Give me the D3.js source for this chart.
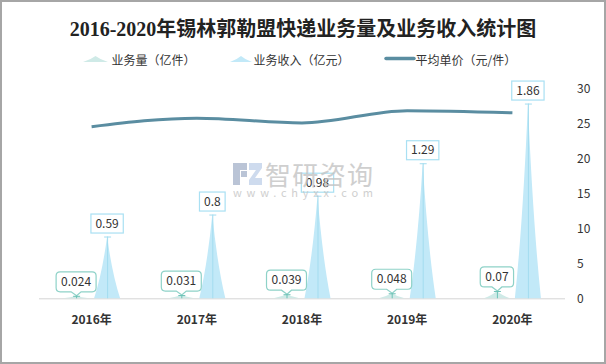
<!DOCTYPE html>
<html><head><meta charset="utf-8">
<script src="https://cdn.jsdelivr.net/npm/d3@7"></script>
<style>body{margin:0;background:#fff}svg{display:block}</style>
</head><body><svg id="c" width="606" height="364"></svg>
<script>
const title = "2016-2020年锡林郭勒盟快递业务量及业务收入统计图";
const years = ["2016年","2017年","2018年","2019年","2020年"];
const volume = [0.024,0.031,0.039,0.048,0.07];
const revenue = [0.59,0.8,0.98,1.29,1.86];
const price = [24.58,25.81,25.13,26.88,26.57];
const rightTicks = [0,5,10,15,20,25,30];
const seriesNames = ["业务量（亿件）","业务收入（亿元）","平均单价（元/件）"];

const svg = d3.select("#c");
const FONT = "'Noto Sans CJK SC','Noto Sans',sans-serif";
const W = 606, H = 364;
const m = {left:39, right:565, top:88.9, bottom:298.3};

const x0 = d3.scaleBand().domain(years).range([m.left, m.right]);
const x1 = d3.scaleBand().domain(["vol","rev"]).range([-31,31]).paddingInner(0.16).paddingOuter(0.08);
const yL = d3.scaleLinear().domain([0,2]).range([m.bottom, m.top]);
const yR = d3.scaleLinear().domain([0,30]).range([m.bottom, m.top]);

const C = {
  volFill:"#cfeae7", volLine:"#6cc2b6", volBox:"#8ed2c8",
  revFill:"#c2e9f8", revLine:"#a3dcef", revBox:"#a9e0f3",
  price:"#5a8da1"
};

// border
svg.append("rect").attr("x",1).attr("y",1).attr("width",W-2).attr("height",H-2)
  .attr("fill","#fff").attr("stroke","#a6a6a6").attr("stroke-width",2);

// title
svg.append("text").attr("x",303).attr("y",35.5).attr("text-anchor","middle")
  .attr("font-family","'Liberation Serif','Noto Sans CJK SC',serif").attr("font-weight","bold")
  .attr("font-size",20).attr("fill","#222").text(title);

function spike(cx, w, y0, y1){
  const h = y0 - y1;
  return `M${cx-w/2},${y0} Q${cx-0.19*w},${y0-0.40*h} ${cx},${y1} Q${cx+0.19*w},${y0-0.40*h} ${cx+w/2},${y0} Z`;
}

// legend
const lg = svg.append("g").attr("font-family",FONT).attr("font-size",12).attr("fill","#333");
lg.append("path").attr("d",spike(95.5,25,62,56)).attr("fill",C.volFill);
lg.append("text").attr("x",111.5).attr("y",59).attr("dominant-baseline","central").text(seriesNames[0]);
lg.append("path").attr("d",spike(241,22,62,56)).attr("fill",C.revFill);
lg.append("text").attr("x",253.5).attr("y",59).attr("dominant-baseline","central").text(seriesNames[1]);
lg.append("line").attr("x1",386).attr("x2",414).attr("y1",58.5).attr("y2",58.5)
  .attr("stroke",C.price).attr("stroke-width",3.5).attr("stroke-linecap","round");
lg.append("text").attr("x",415.5).attr("y",59).attr("dominant-baseline","central").text(seriesNames[2]);

// x axis line
svg.append("line").attr("x1",m.left).attr("x2",m.right).attr("y1",m.bottom+0.5).attr("y2",m.bottom+0.5)
  .attr("stroke","#d4d4d4").attr("stroke-width",1);

// x labels
const xa = svg.append("g").attr("transform",`translate(0,${m.bottom})`).call(d3.axisBottom(x0).tickSize(0).tickPadding(0));
xa.select(".domain").remove();
xa.selectAll("text").attr("y",22).attr("dy","0.35em").attr("font-family",FONT).attr("font-weight","bold")
  .attr("font-size",12).attr("fill","#333");

// right axis
const ra = svg.append("g").attr("transform",`translate(571,0)`).call(d3.axisRight(yR).tickValues(rightTicks).tickSize(0).tickPadding(6));
ra.select(".domain").remove();
ra.selectAll("text").attr("font-family",FONT).attr("font-size",12).attr("fill","#333");

// bars
const bw = x1.bandwidth();
const gBars = svg.append("g");
years.forEach((yr,i)=>{
  const cv = x0(yr)+x0.bandwidth()/2 + x1("vol")+bw/2;
  const cr = x0(yr)+x0.bandwidth()/2 + x1("rev")+bw/2;
  gBars.append("path").attr("d",spike(cv,bw,yL(0),yL(volume[i]))).attr("fill",C.volFill);
  gBars.append("path").attr("d",spike(cr,bw,yL(0),yL(revenue[i]))).attr("fill",C.revFill);
});

// price line
const line = d3.line().x((d,i)=>x0(years[i])+x0.bandwidth()/2).y(d=>yR(d)).curve(d3.curveMonotoneX);
svg.append("path").datum(price).attr("d",line).attr("fill","none")
  .attr("stroke",C.price).attr("stroke-width",3);

// markers and labels
const gl = svg.append("g").attr("font-family",FONT).attr("font-size",12).attr("fill","#333");
years.forEach((yr,i)=>{
  const cv = x0(yr)+x0.bandwidth()/2 + x1("vol")+bw/2;
  const cr = x0(yr)+x0.bandwidth()/2 + x1("rev")+bw/2;
  // revenue
  const tr = yL(revenue[i]);
  gl.append("line").attr("x1",cr+0.5).attr("x2",cr+0.5).attr("y1",yL(0)).attr("y2",tr).attr("stroke",C.revLine).attr("stroke-width",1);
  gl.append("line").attr("x1",cr-3).attr("x2",cr+4).attr("y1",tr+0.5).attr("y2",tr+0.5).attr("stroke",C.revLine).attr("stroke-width",1);
  const t1 = gl.append("text").attr("x",cr).attr("text-anchor","middle").attr("y",tr-13).attr("dy","0.35em").text(String(revenue[i]));
  const w1 = t1.node().getComputedTextLength()+9;
  gl.insert("rect","text").attr("x",cr-w1/2).attr("y",tr-22.5).attr("width",w1).attr("height",19)
    .attr("fill","#fff").attr("stroke",C.revBox).attr("stroke-width",1.2);
  t1.raise();
  // volume
  const tv = yL(volume[i]);
  gl.append("line").attr("x1",cv+0.5).attr("x2",cv+0.5).attr("y1",yL(0)).attr("y2",tv).attr("stroke",C.volLine).attr("stroke-width",1);
  gl.append("line").attr("x1",cv-3).attr("x2",cv+4).attr("y1",tv+0.5).attr("y2",tv+0.5).attr("stroke",C.volLine).attr("stroke-width",1);
  const t2 = gl.append("text").attr("x",cv).attr("text-anchor","middle").attr("y",tv-14).attr("dy","0.35em").text(String(volume[i]));
  const w2 = t2.node().getComputedTextLength()+10;
  const bx = cv-w2/2, by = tv-24, bh = 20, r = 4, pb = by+bh;
  const p = `M${bx+r},${by} H${bx+w2-r} Q${bx+w2},${by} ${bx+w2},${by+r} V${pb-r} Q${bx+w2},${pb} ${bx+w2-r},${pb}`+
    ` H${cv+5} L${cv+0.5},${tv} L${cv-5},${pb} H${bx+r} Q${bx},${pb} ${bx},${pb-r} V${by+r} Q${bx},${by} ${bx+r},${by} Z`;
  gl.insert("path","text").attr("d",p).attr("fill","#fff").attr("stroke",C.volBox).attr("stroke-width",1.2);
  t2.raise();
});

// watermark
const wm = svg.append("g").attr("opacity",0.8);
wm.append("path").attr("d","M233,163 H247 V170 H240 V185 H233 Z M241,171 H247 V177 H241 Z").attr("fill","#a9b6cc");
wm.append("path").attr("d","M249,163 H262 V168 L255,178 H262 V185 H249 V180 L256,170 H249 Z").attr("fill","#c3d3ea");
wm.append("text").attr("x",265).attr("y",184.5).attr("font-family",FONT).attr("font-size",26)
  .attr("textLength",108).attr("lengthAdjust","spacing").attr("fill","#c4c4c4").text("智研咨询");
wm.append("text").attr("x",233).attr("y",197).attr("font-family",FONT).attr("font-size",11)
  .attr("textLength",140).attr("lengthAdjust","spacing").attr("fill","#c4c4c4").text("www.chyxx.com");
</script></body></html>
